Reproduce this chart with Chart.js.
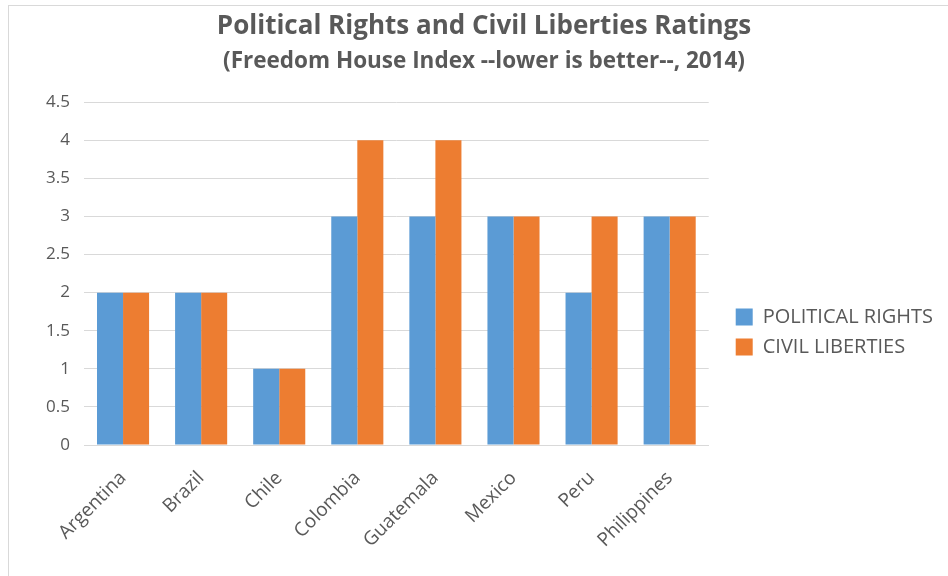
<!DOCTYPE html>
<html>
<head>
<meta charset="utf-8">
<script src="https://cdn.jsdelivr.net/npm/chart.js@4"></script>
<style>
    html, body { margin: 0; padding: 0; background: #fff; }
    #wrap { position: relative; width: 948px; height: 576px; }
    #frame {
        position: absolute; left: 8px; top: 5px; width: 960px; height: 600px;
        border-left: 1px solid #d9d9d9; border-top: 1px solid #d9d9d9;
        pointer-events: none;
    }
</style>
</head>
<body>
<div id="wrap">
    <canvas id="ratingsChart" width="948" height="576"></canvas>
    <div id="frame"></div>
</div>
<script>
// --- DATA ---
const countries = ['Argentina', 'Brazil', 'Chile', 'Colombia', 'Guatemala', 'Mexico', 'Peru', 'Philippines'];
const politicalRights = [2, 2, 1, 3, 3, 3, 2, 3];
const civilLiberties = [2, 2, 1, 4, 4, 3, 3, 3];

const FONT = '"Open Sans", sans-serif';
const GREY = '#595959';

// nudge legend and titles to where the original has them
const boxShift = {
    id: 'boxShift',
    afterLayout(chart) {
        chart.boxes.forEach((box) => {
            if (box === chart.legend) {
                box.left += 17;
                box.right += 17;
                box.top += 40;
                box.bottom += 40;
            } else if (box.options && box.options.position === 'top' && !box.axis) {
                box.left += 11;
                box.right += 11;
            }
        });
    },
};

const ctx = document.getElementById('ratingsChart').getContext('2d');
const ratingsChart = new Chart(ctx, {
    type: 'bar',
    data: {
        labels: countries,
        datasets: [
            {
                label: 'POLITICAL RIGHTS',
                data: politicalRights,
                backgroundColor: '#5b9bd5',
                categoryPercentage: 0.667,
                barPercentage: 1.0,
            },
            {
                label: 'CIVIL LIBERTIES',
                data: civilLiberties,
                backgroundColor: '#ed7d31',
                categoryPercentage: 0.667,
                barPercentage: 1.0,
            },
        ],
    },
    plugins: [boxShift],
    options: {
        responsive: false,
        animation: false,
        layout: { padding: { left: 20, right: 22, top: 8, bottom: 0 } },
        plugins: {
            title: {
                display: true,
                text: 'Political Rights and Civil Liberties Ratings',
                color: GREY,
                font: { family: FONT, size: 26, weight: 'bold' },
                padding: { top: 3, bottom: 2 },
            },
            subtitle: {
                display: true,
                text: '(Freedom House Index --lower is better--, 2014)',
                color: GREY,
                font: { family: FONT, size: 22.5, weight: 'bold' },
                padding: { top: 4, bottom: 27 },
            },
            legend: {
                position: 'right',
                labels: {
                    boxWidth: 17,
                    boxHeight: 17,
                    padding: 10,
                    color: GREY,
                    font: { family: FONT, size: 20 },
                },
            },
            tooltip: { enabled: false },
        },
        scales: {
            x: {
                grid: { display: false },
                border: { display: true, color: '#d9d9d9' },
                ticks: {
                    color: GREY,
                    font: { family: FONT, size: 19 },
                    minRotation: 45,
                    maxRotation: 45,
                    padding: 14,
                },
                afterFit: (scale) => { scale.height = 131; },
            },
            y: {
                min: 0,
                max: 4.5,
                ticks: {
                    stepSize: 0.5,
                    color: GREY,
                    font: { family: FONT, size: 17 },
                    padding: 14,
                    callback: (value) => String(value),
                },
                grid: { color: '#d9d9d9', drawTicks: false },
                border: { display: false },
                afterFit: (scale) => { scale.width = 64; },
            },
        },
    },
});
</script>
</body>
</html>
